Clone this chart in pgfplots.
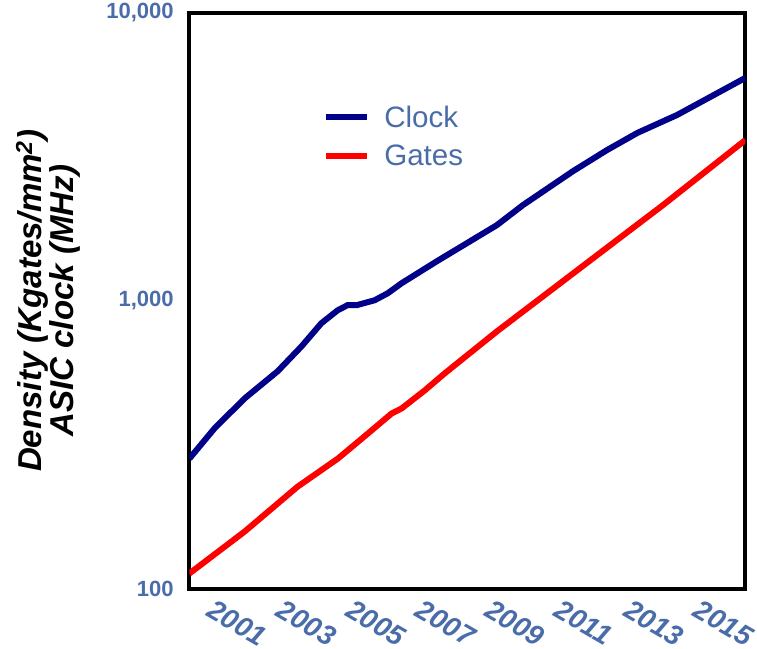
\documentclass[border=0pt]{standalone}
\usepackage{pgfplots}
\pgfplotsset{compat=1.18}
\usepackage{fontspec}
\setmainfont{Liberation Sans}
\definecolor{tickblue}{HTML}{4A6DAA}
\definecolor{clockblue}{HTML}{000088}
\begin{document}
\begin{tikzpicture}
\begin{axis}[
  width=555pt, height=575pt, scale only axis,
  xmin=2000, xmax=2016,
  ymode=log, ymin=100, ymax=10000,
  xtick={2001,2003,2005,2007,2009,2011,2013,2015},
  xticklabels={2001,2003,2005,2007,2009,2011,2013,2015},
  ytick={100,1000,10000},
  yticklabels={100,{1,000},{10,000}},
  major tick length=0pt, minor tick length=0pt,
  axis line style={line width=4pt, black},
  /pgf/number format/assume math mode=true,
  yticklabel style={font=\fontsize{22}{24}\selectfont\bfseries, text=tickblue, xshift=-12pt},
  xticklabel style={font=\fontsize{28}{30}\selectfont\bfseries\itshape, text=tickblue, rotate=-30, anchor=north west, yshift=-12pt, xshift=-4pt, inner sep=1pt},
  ylabel={Density (Kgates/mm\textsuperscript{2})\\ASIC clock (MHz)},
  ylabel style={font=\fontsize{33}{32}\selectfont\bfseries\itshape, align=center,
    at={(axis description cs:-0.254,0.5)}, anchor=center, inner sep=16pt},
  legend style={draw=none, fill=none, at={(0.235,0.846)}, anchor=north west,
    font=\fontsize{29.5}{31}\selectfont, text=tickblue, row sep=12pt},
  legend cell align=left,
  legend image code/.code={\draw[#1, line width=6pt] (0pt,0pt) -- (41pt,0pt);
    \path[draw=none] (0pt,0pt) -- (56pt,0pt);},
]
\addplot[clockblue, line width=6pt] coordinates {
  (2000.0,283) (2000.72,360) (2001.59,458) (2002.54,569) (2003.23,695)
  (2003.80,836) (2004.27,927) (2004.55,965) (2004.81,965) (2005.33,1004)
  (2005.71,1062) (2006.11,1151) (2007.12,1371) (2008.85,1831) (2009.60,2149)
  (2011.04,2818) (2012.02,3337) (2012.89,3825) (2014.04,4419) (2016.0,5941)
};
\addlegendentry{Clock}
\addplot[red, line width=6pt] coordinates {
  (2000.0,113) (2001.59,158) (2003.11,226) (2004.27,283) (2004.96,332)
  (2005.82,406) (2006.11,423) (2006.77,488) (2007.35,560) (2008.85,783)
  (2011.73,1439) (2013.63,2149) (2016.0,3614)
};
\addlegendentry{Gates}
\end{axis}
\end{tikzpicture}
\end{document}
